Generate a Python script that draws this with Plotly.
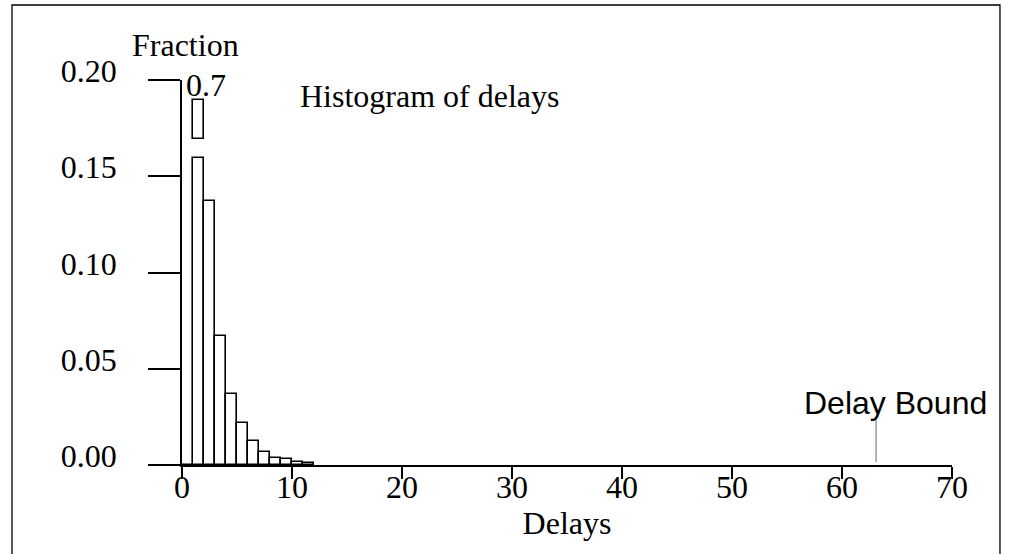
import plotly.graph_objects as go

# Histogram of packet delays (fraction of packets per unit-width delay bin)
bin_starts = [0, 1, 2, 3, 4, 5, 6, 7, 8, 9, 10, 11]
fractions = [0.0, 0.7, 0.137, 0.067, 0.037, 0.022, 0.0126, 0.0069, 0.0038, 0.003, 0.0017, 0.0009]
x_ticks = [0, 10, 20, 30, 40, 50, 60, 70]
y_ticks = [0.0, 0.05, 0.10, 0.15, 0.20]
y_tick_text = ["0.00", "0.05", "0.10", "0.15", "0.20"]
delay_bound = 63.1

Y_MAX = 0.20
# an off-scale bar is drawn broken: lower stub, gap, short upper piece
BREAK_LOW, BREAK_HIGH, BREAK_TOP = 0.1595, 0.1695, 0.1895

SERIF = "Liberation Serif, Times New Roman, serif"
SANS = "Liberation Sans, Arial, sans-serif"
FS = 32

centers = [b + 0.5 for b in bin_starts]
shown = [min(v, BREAK_LOW) if v > Y_MAX else v for v in fractions]
over = [(c, v) for c, v in zip(centers, fractions) if v > Y_MAX]

bar_style = dict(color="white", line=dict(color="black", width=1.6))

fig = go.Figure()
fig.add_trace(go.Bar(x=centers, y=shown, width=1, marker=bar_style,
                     showlegend=False, hoverinfo="skip"))
if over:
    fig.add_trace(go.Bar(x=[c for c, _ in over],
                         y=[BREAK_TOP - BREAK_HIGH for _ in over],
                         base=[BREAK_HIGH for _ in over],
                         width=1, marker=bar_style,
                         showlegend=False, hoverinfo="skip"))

# delay bound marker
fig.add_trace(go.Scatter(x=[delay_bound, delay_bound], y=[0.0015, 0.0235],
                         mode="lines", line=dict(color="#8a8a8a", width=1.3),
                         showlegend=False, hoverinfo="skip"))

annotations = [
    dict(text="Fraction", x=0.004, y=1.092, xref="paper", yref="paper",
         xanchor="center", yanchor="middle", showarrow=False,
         font=dict(family=SERIF, size=FS, color="black")),
    dict(text="Histogram of delays", x=0.151, y=0.958, xref="paper", yref="paper",
         xanchor="left", yanchor="middle", showarrow=False,
         font=dict(family=SERIF, size=FS, color="black")),
    dict(text="Delay Bound", x=0.927, y=0.160, xref="paper", yref="paper",
         xanchor="center", yanchor="middle", showarrow=False,
         font=dict(family=SANS, size=32, color="black")),
]
for c, v in over:
    annotations.append(dict(text=f"{v:g}", x=c - 1.3, y=BREAK_TOP + 0.008,
                            xref="x", yref="y", xanchor="left", yanchor="middle",
                            showarrow=False,
                            font=dict(family=SERIF, size=FS, color="black")))

axis_common = dict(showgrid=False, zeroline=False, showline=True,
                   linecolor="black", linewidth=1.6, ticks="outside",
                   tickcolor="black", tickwidth=1.6,
                   tickfont=dict(family=SERIF, size=FS, color="black"))

fig.update_layout(
    width=1013, height=554,
    margin=dict(l=182, r=61, t=80, b=89),
    paper_bgcolor="white", plot_bgcolor="white",
    barmode="overlay", bargap=0,
    xaxis=dict(range=[0, 70], tickvals=x_ticks, ticklen=12,
               ticklabelstandoff=-19,
               title=dict(text="Delays", standoff=2,
                          font=dict(family=SERIF, size=FS, color="black")),
               **axis_common),
    yaxis=dict(range=[0, Y_MAX], tickvals=y_ticks, ticktext=y_tick_text,
               ticklen=32, ticklabelstandoff=25, ticklabelshift=-9,
               **axis_common),
    annotations=annotations,
    shapes=[dict(type="rect", xref="paper", yref="paper",
                 x0=-0.2208, x1=1.0623, y0=-0.30, y1=1.1948,
                 line=dict(color="black", width=1.3), layer="below")],
)

fig.write_html("out.html")
